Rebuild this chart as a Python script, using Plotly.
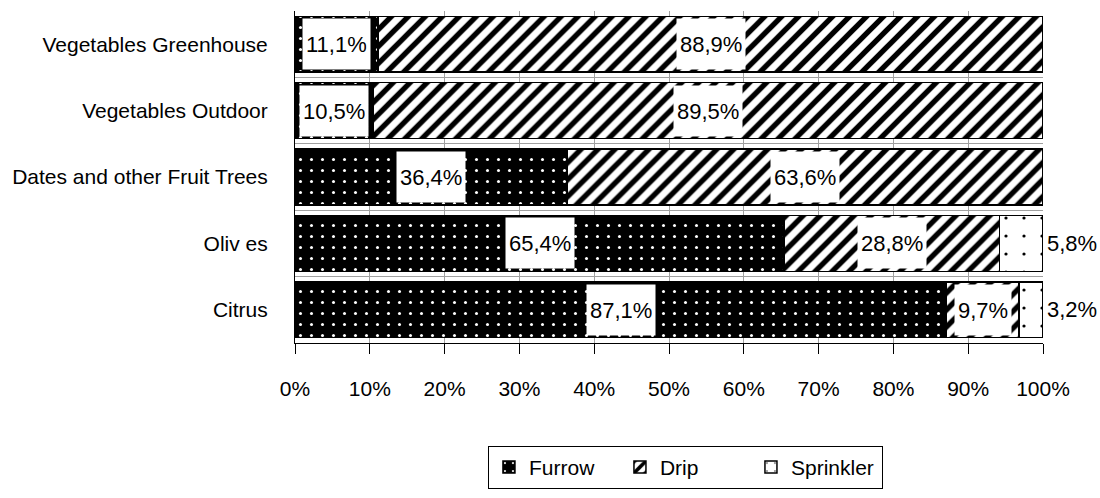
import plotly.graph_objects as go

categories = ["Vegetables Greenhouse", "Vegetables Outdoor", "Dates and other Fruit Trees", "Olives", "Citrus"]
category_labels = ["Vegetables Greenhouse", "Vegetables Outdoor", "Dates and other Fruit Trees", "Oliv es", "Citrus"]
furrow = [11.1, 10.5, 36.4, 65.4, 87.1]
drip = [88.9, 89.5, 63.6, 28.8, 9.7]
sprinkler = [0.0, 0.0, 0.0, 5.8, 3.2]
x_ticks = [0, 10, 20, 30, 40, 50, 60, 70, 80, 90, 100]

FONT = "Liberation Sans, Arial, sans-serif"

series = [
    ("Furrow", furrow, dict(shape=".", bgcolor="black", fgcolor="white", size=11, solidity=0.06)),
    ("Drip", drip, dict(shape="/", bgcolor="white", fgcolor="black", size=12, solidity=0.45)),
    ("Sprinkler", sprinkler, dict(shape=".", bgcolor="white", fgcolor="black", size=18, solidity=0.025)),
]

fig = go.Figure()
for name, vals, pat in series:
    fig.add_trace(go.Bar(
        y=categories, x=vals, name=name, orientation="h",
        marker=dict(color="white", pattern=dict(fillmode="replace", **pat),
                    line=dict(color="black", width=1.5)),
    ))

def fmt(v):
    return f"{v:.1f}%".replace(".", ",")

annotations = []
for i, cat in enumerate(categories):
    start = 0.0
    for name, vals, _ in series:
        v = vals[i]
        if v > 0:
            if name == "Sprinkler":
                annotations.append(dict(x=100, y=cat, xref="x", yref="y", text=fmt(v),
                                        showarrow=False, xanchor="left", xshift=2,
                                        font=dict(family=FONT, size=22, color="black")))
            else:
                annotations.append(dict(x=start + v / 2, y=cat, xref="x", yref="y", text=fmt(v),
                                        showarrow=False, bgcolor="white", borderpad=3, height=44,
                                        font=dict(family=FONT, size=22, color="black")))
        start += v

fig.update_layout(
    barmode="stack",
    bargap=0.16,
    width=1100, height=498,
    margin=dict(l=295, r=57, t=11, b=155, autoexpand=False),
    paper_bgcolor="white", plot_bgcolor="white",
    font=dict(family=FONT, size=20, color="black"),
    showlegend=True,
    legend=dict(orientation="h", x=0.522, xanchor="center", y=-0.31, yanchor="top",
                bordercolor="black", borderwidth=1, bgcolor="white",
                font=dict(family=FONT, size=21, color="black"),
                entrywidth=86, traceorder="normal"),
    annotations=annotations,
)
fig.update_xaxes(range=[0, 100], tickvals=x_ticks, ticktext=[f"{t}%" for t in x_ticks],
                 showgrid=True, gridcolor="#a0a0a0", gridwidth=1,
                 showline=True, linecolor="black", linewidth=1,
                 ticks="outside", ticklen=10, tickcolor="black", ticklabelstandoff=17,
                 tickfont=dict(family=FONT, size=21, color="black"), zeroline=False,
                 automargin=False)
fig.update_yaxes(autorange="reversed", tickvals=categories, ticktext=category_labels,
                 showgrid=True, gridcolor="#a0a0a0", tickson="boundaries",
                 showline=True, linecolor="black", linewidth=1,
                 ticks="", ticklabelstandoff=22, automargin=False,
                 tickfont=dict(family=FONT, size=21, color="black"))

fig.write_html("out.html", config={"displayModeBar": False},
               post_script="document.body.style.margin='0';")
